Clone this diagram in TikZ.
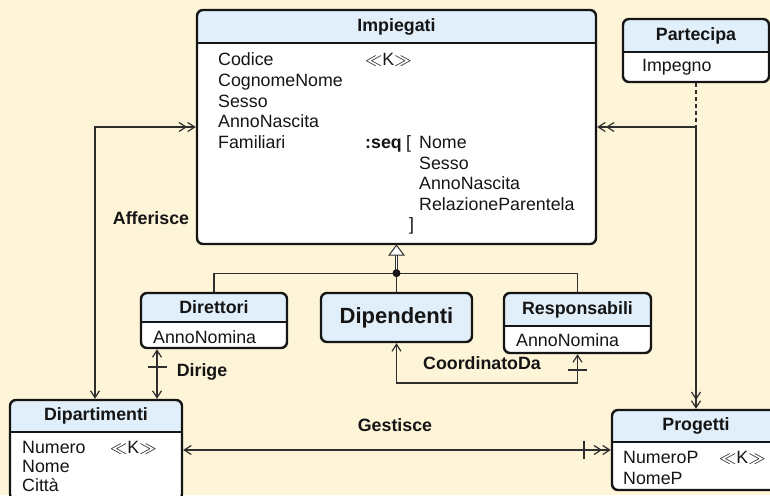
\documentclass[tikz,border=0pt]{standalone}
\usepackage{fontspec}
\setmainfont{Liberation Sans}
\usetikzlibrary{arrows.meta,fit,calc}
\definecolor{bgc}{HTML}{FEF5D8}
\definecolor{hdr}{HTML}{E0EFFA}
\definecolor{ink}{HTML}{151515}
\definecolor{lnk}{HTML}{2E2E2E}
\tikzset{
  boxframe/.style={draw=ink, line width=2.4pt, rounded corners=6pt, inner sep=0pt},
  conn/.style={draw=lnk, line width=1.2pt},
  ttl/.style={font=\bfseries\fontsize{17.8}{20}\selectfont, inner sep=0pt, text=ink},
  attr/.style={font=\fontsize{17.8}{20}\selectfont, anchor=base west, inner sep=0pt, text=ink},
  lbl/.style={font=\bfseries\fontsize{17.8}{20}\selectfont, inner sep=0pt, text=ink},
}
\newcommand\umlent[7]{%
  \begin{scope}
    \clip[rounded corners=6pt] (#2,#3) rectangle (#4,#5);
    \fill[white] (#2,#3) rectangle (#4,#5);
    \fill[hdr] (#2,#3) rectangle (#4,#6);
    \draw[boxframe] (#2,#6) -- (#4,#6);
  \end{scope}
  \node[boxframe, fit={(#2,#3) (#4,#5)}] (#1) {};
  \node[ttl] (#1-t) at ($(#2,#3)!0.5!(#4,#6)$) {#7};
}
\begin{document}
\begin{tikzpicture}[x=1pt,y=-1pt,>={Straight Barb[length=7pt,width=9pt]}]
\useasboundingbox (0,0) rectangle (770,495);
\fill[bgc] (0,0) rectangle (770,495);
\clip (0,0) rectangle (770,495);

% entities
\umlent{imp}{197}{10}{596}{244}{43}{Impiegati}
\umlent{part}{623}{19}{769}{82}{52}{Partecipa}
\umlent{dir}{141}{293}{287}{348}{322}{Direttori}
\umlent{dipd}{321}{293}{472}{342}{342}{\fontsize{22}{24}\selectfont Dipendenti}
\umlent{resp}{504}{293}{651}{353}{326}{Responsabili}
\umlent{dip}{10}{400}{182}{500}{432}{Dipartimenti}
\umlent{prog}{612}{410}{780}{490}{442}{Progetti}

% Impiegati attributes
\foreach \t [count=\i] in {Codice,CognomeNome,Sesso,AnnoNascita,Familiari}
  \node[attr] (impa\i) at (218,{66+20.6*(\i-1)}) {\t};
\node[attr] (impk) at (365,66) {$\ll$K$\gg$};
\node[attr] (impseq) at (365,148.4) {\textbf{:seq}};
\node[attr] (implb) at (406,148.4) {[};
\foreach \t [count=\i] in {Nome,Sesso,AnnoNascita,RelazioneParentela}
  \node[attr] (impf\i) at (419,{148.4+20.6*(\i-1)}) {\t};
\node[attr] (imprb) at (409,230.8) {]};

% other attributes
\node[attr] (parta) at (642,71) {Impegno};
\node[attr] (dira) at (153,343) {AnnoNomina};
\node[attr] (respa) at (516,346) {AnnoNomina};
\node[attr] (dipa1) at (22,453) {Numero};
\node[attr] (dipa2) at (22,472.5) {Nome};
\node[attr] (dipa3) at (22,491.5) {Città};
\node[attr] (dipk) at (110,453) {$\ll$K$\gg$};
\node[attr] (proga1) at (623,463) {NumeroP};
\node[attr] (proga2) at (623,484) {NomeP};
\node[attr] (progk) at (719,463) {$\ll$K$\gg$};

% generalization
\path (imp.south) ++(0,28) coordinate (gd);
\path (imp.south) ++(0,10) coordinate (tb);
\draw[conn] (dir.north) |- (gd) -| (resp.north);
\draw[conn] (gd) -- (dipd.north);
\draw[draw=lnk, line width=0.9pt, double=white, double distance=1.8pt] (gd) -- (tb);
\draw[draw=lnk, line width=1pt, fill=white] (imp.south) -- ++(-7.5,10) -- ++(15,0) -- cycle;
\fill[ink] (gd) circle (4pt);

% Afferisce
\coordinate (affc) at (95,0);
\draw[conn,<->>] (affc |- dip.north) -- (affc |- imp.west) -- (imp.west);
\node[lbl] (afflbl) at (151,218) {Afferisce};

% Dirige
\coordinate (dirc) at (157,0);
\draw[conn,<->] (dirc |- dir.south) -- (dirc |- dip.north);
\coordinate (dtk) at (157,367);
\draw[conn] ([xshift=-9.5pt]dtk) -- ([xshift=9.5pt]dtk);
\node[lbl] (dirlbl) at (202,372) {Dirige};

% CoordinatoDa
\coordinate (cdy) at (0,383);
\draw[conn,<->] (dipd.south) -- (dipd.south |- cdy) -| (resp.south);
\coordinate (ctk) at (resp.south |- 0,370);
\draw[conn] ([xshift=-9.5pt]ctk) -- ([xshift=9.5pt]ctk);
\node[lbl] (cdlbl) at (482,363) {CoordinatoDa};

% Gestisce
\draw[conn,<->>] (dip.east) -- (prog.west);
\coordinate (gtk) at (584,450);
\draw[conn] ([yshift=-9pt]gtk) -- ([yshift=9pt]gtk);
\node[lbl] (geslbl) at (395,425) {Gestisce};

% Partecipa
\coordinate (pj) at (part.south |- imp.east);
\draw[conn, dash pattern=on 4pt off 3pt] (part.south) -- (pj);
\draw[conn,->>] (pj) -- (imp.east);
\draw[conn,->>] (pj) -- (prog.north);
\end{tikzpicture}
\end{document}
